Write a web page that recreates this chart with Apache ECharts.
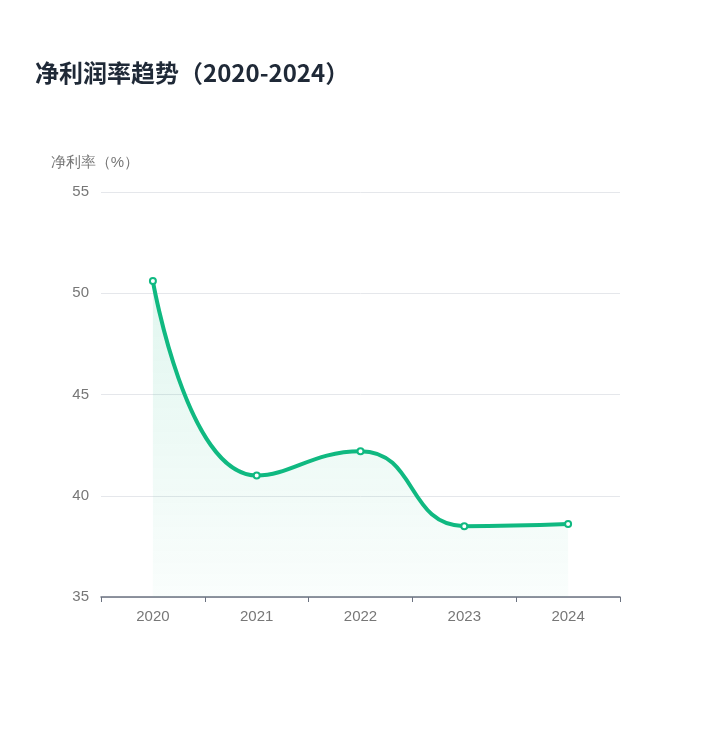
<!DOCTYPE html>
<html><head><meta charset="utf-8">
<script src="https://cdn.jsdelivr.net/npm/echarts@6/dist/echarts.min.js"></script>
<style>html,body{margin:0;padding:0;background:#fff}#c{width:720px;height:738px}</style>
</head><body><div id="c"></div>
<script>
const categories = ['2020','2021','2022','2023','2024'];
const netMargin = [50.6, 41.0, 42.2, 38.5, 38.6];
const yTicks = [35, 40, 45, 50, 55];
const chart = echarts.init(document.getElementById('c'));
chart.setOption({
  animation:false,
  title:{text:'净利润率趋势（2020-2024）',left:30,top:56,textStyle:{fontSize:24,fontWeight:'bold',color:'#1f2937',fontFamily:'Noto Sans CJK SC'}},
  grid:{left:101,right:100,top:192,bottom:141},
  xAxis:{type:'category',data:categories,boundaryGap:true,
    axisLine:{lineStyle:{color:'#6b7280',width:1.5}},axisTick:{show:true,lineStyle:{color:'#6b7280'}},
    axisLabel:{color:'#777',fontSize:15,margin:12}},
  yAxis:{type:'value',min:yTicks[0],max:yTicks[yTicks.length-1],interval:5,
    name:'净利率（%）',nameLocation:'end',nameGap:22,nameTextStyle:{color:'#777',fontSize:15,align:'center',padding:[0,0,0,-12]},
    axisLine:{show:false},axisTick:{show:false},
    axisLabel:{color:'#777',fontSize:15,margin:12},
    splitLine:{lineStyle:{color:'#e5e7eb'}}},
  series:[{type:'line',data:netMargin,smooth:true,symbol:'circle',symbolSize:6,
    lineStyle:{color:'#10b981',width:4},
    itemStyle:{color:'#fff',borderColor:'#10b981',borderWidth:2},
    areaStyle:{color:new echarts.graphic.LinearGradient(0,0,0,1,[{offset:0,color:'rgba(16,185,129,0.18)'},{offset:1,color:'rgba(16,185,129,0.03)'}])}}]
});
</script></body></html>
